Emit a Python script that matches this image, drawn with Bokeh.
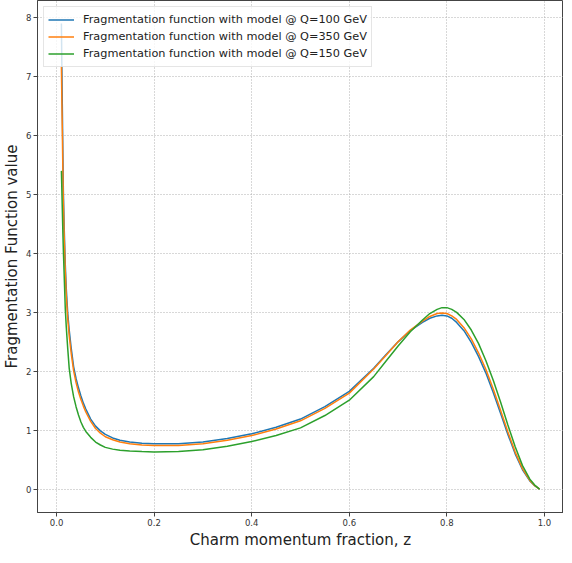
from bokeh.plotting import figure
from bokeh.models import Range1d, FixedTicker, PrintfTickFormatter, Legend, LegendItem
from bokeh.embed import file_html
from bokeh.resources import INLINE

# momentum fraction z
z = [0.010, 0.011, 0.012, 0.013, 0.014, 0.016, 0.018, 0.020, 0.023, 0.026,
     0.030, 0.035, 0.040, 0.045, 0.050, 0.055, 0.060, 0.070, 0.080, 0.090,
     0.100, 0.115, 0.130, 0.150, 0.175, 0.200, 0.250, 0.300, 0.350, 0.400,
     0.450, 0.500, 0.550, 0.600, 0.650, 0.675, 0.700, 0.725, 0.750, 0.765,
     0.780, 0.790, 0.800, 0.810, 0.820, 0.835, 0.850, 0.865, 0.880, 0.895,
     0.910, 0.925, 0.940, 0.955, 0.970, 0.980, 0.990]

# Q = 100 GeV
ff_q100 = [7.90, 7.10, 6.40, 5.70, 5.05, 4.35, 3.80, 3.40, 2.98, 2.70,
           2.40, 2.08, 1.88, 1.72, 1.58, 1.46, 1.36, 1.19, 1.07, 0.99,
           0.93, 0.87, 0.83, 0.80, 0.78, 0.77, 0.77, 0.80, 0.86, 0.94,
           1.05, 1.19, 1.40, 1.66, 2.05, 2.28, 2.50, 2.69, 2.83, 2.90,
           2.94, 2.95, 2.94, 2.90, 2.83, 2.69, 2.49, 2.25, 1.97, 1.64,
           1.29, 0.93, 0.60, 0.33, 0.14, 0.06, 0.00]

# Q = 350 GeV
ff_q350 = [7.17, 6.55, 6.00, 5.40, 4.85, 4.20, 3.68, 3.28, 2.88, 2.60,
           2.31, 2.01, 1.81, 1.65, 1.52, 1.41, 1.31, 1.15, 1.03, 0.95,
           0.89, 0.84, 0.80, 0.77, 0.75, 0.74, 0.74, 0.77, 0.83, 0.91,
           1.02, 1.16, 1.37, 1.63, 2.04, 2.27, 2.50, 2.70, 2.85, 2.93,
           2.98, 2.99, 2.98, 2.94, 2.88, 2.74, 2.55, 2.31, 2.03, 1.70,
           1.34, 0.97, 0.63, 0.35, 0.15, 0.06, 0.00]

# Q = 150 GeV
ff_q150 = [5.40, 5.05, 4.70, 4.35, 4.05, 3.55, 3.05, 2.75, 2.38, 2.05,
           1.80, 1.57, 1.40, 1.26, 1.14, 1.05, 0.98, 0.88, 0.80, 0.75,
           0.71, 0.68, 0.66, 0.648, 0.638, 0.633, 0.64, 0.67, 0.73, 0.81,
           0.91, 1.04, 1.25, 1.51, 1.91, 2.17, 2.43, 2.67, 2.87, 2.98,
           3.05, 3.08, 3.08, 3.05, 3.00, 2.88, 2.70, 2.47, 2.18, 1.85,
           1.48, 1.09, 0.72, 0.40, 0.17, 0.07, 0.00]

labels = ["Fragmentation function with model @ Q=100 GeV",
          "Fragmentation function with model @ Q=350 GeV",
          "Fragmentation function with model @ Q=150 GeV"]
colors = ["#1f77b4", "#ff7f0e", "#2ca02c"]
x_ticks = [0.0, 0.2, 0.4, 0.6, 0.8, 1.0]
y_ticks = [0, 1, 2, 3, 4, 5, 6, 7, 8]

FONT = "DejaVu Sans"

p = figure(frame_width=526, frame_height=512, output_backend="svg", toolbar_location=None,
           x_range=Range1d(-0.039, 1.039), y_range=Range1d(-0.395, 8.29),
           min_border_left=0, min_border_right=0, min_border_top=0, min_border_bottom=0)

renderers = []
for ys, c in zip([ff_q100, ff_q350, ff_q150], colors):
    r = p.line(z, ys, line_color=c, line_width=1.5)
    renderers.append(r)

legend = Legend(items=[LegendItem(label=l, renderers=[r]) for l, r in zip(labels, renderers)],
                location="top_left")
legend.label_text_font = FONT
legend.label_text_font_size = "11.3px"
legend.label_text_color = "#222222"
legend.label_height = 17
legend.glyph_height = 17
legend.glyph_width = 26
legend.label_standoff = 9
legend.spacing = 0
legend.padding = 4
legend.margin = 6
legend.border_line_color = "#cccccc"
legend.border_line_width = 1
legend.background_fill_alpha = 0.8
p.add_layout(legend)

p.xaxis.ticker = FixedTicker(ticks=x_ticks)
p.yaxis.ticker = FixedTicker(ticks=y_ticks)
p.xaxis.formatter = PrintfTickFormatter(format="%.1f")
p.yaxis.formatter = PrintfTickFormatter(format="%d")

for ax in [p.xaxis[0], p.yaxis[0]]:
    ax.major_label_text_font = FONT
    ax.major_label_text_font_size = "8.5px"
    ax.major_label_text_color = "#333333"
    ax.axis_label_text_font = FONT
    ax.axis_label_text_font_size = "15px"
    ax.axis_label_text_font_style = "normal"
    ax.axis_label_text_color = "#222222"
    ax.minor_tick_line_color = None
    ax.major_tick_in = 0
    ax.major_tick_out = 4
    ax.major_tick_line_color = "#444444"
    ax.axis_line_color = "#444444"
    ax.major_label_standoff = 2
    ax.axis_label_standoff = 2

p.xaxis.axis_label = "Charm momentum fraction, z"
p.yaxis.axis_label = "Fragmentation Function value"

p.outline_line_color = "#444444"
p.outline_line_width = 1

p.grid.grid_line_color = "#b0b0b0"
p.grid.grid_line_dash = "1 2"
p.grid.grid_line_width = 1

open("out.html", "w").write(file_html(p, INLINE))
